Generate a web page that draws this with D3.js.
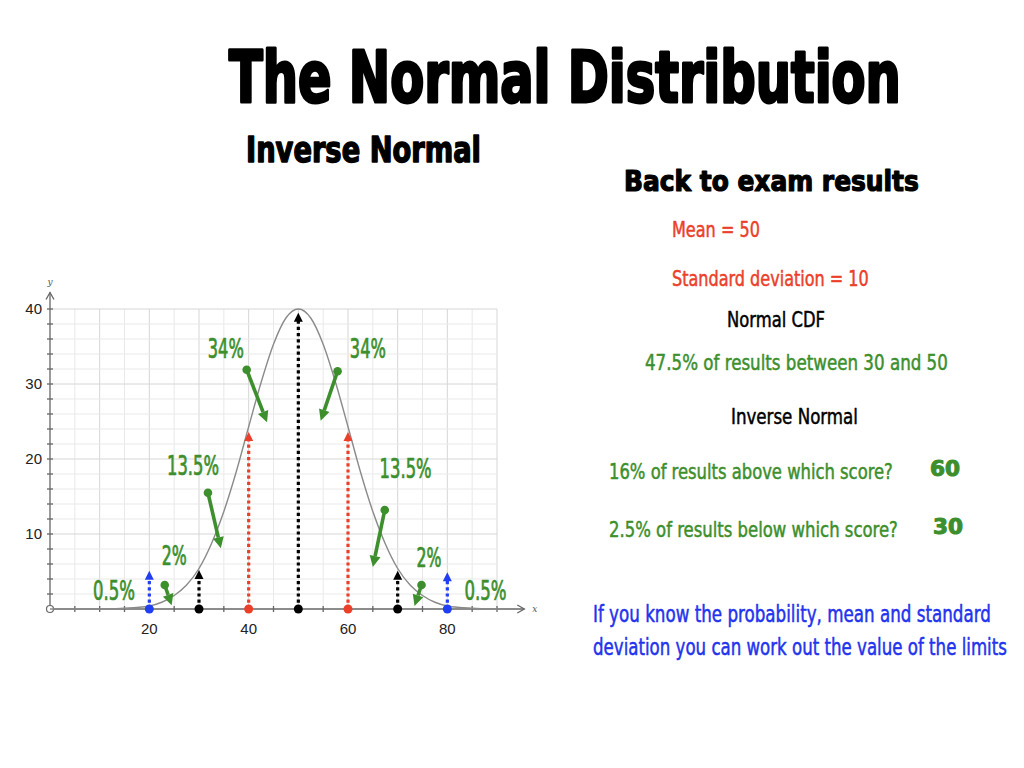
<!DOCTYPE html>
<html lang="en">
<head>
<meta charset="UTF-8">
<script src="https://d3js.org/d3.v7.min.js"></script>
<style>
  body { margin: 0; background: white; }
  .cond { font-family: "Liberation Sans Narrow", "DejaVu Sans Condensed", "Open Sans", sans-serif; }
  .heavy { font-family: "DejaVu Sans Condensed", "DejaVu Sans", sans-serif; font-weight: bold; }
  .tick-label { font-family: "Liberation Sans", Arial, sans-serif; font-size: 15px; fill: #222; }
</style>
</head>
<body>
<div id="chart"></div>
<script>
// curve (score, height)
const curveX = [0, 2.5, 5, 7.5, 10, 12.5, 15, 17.5, 20, 22.5, 25, 27.5, 30, 32.5, 35, 37.5, 40, 42.5, 45, 47.5,
                50, 52.5, 55, 57.5, 60, 62.5, 65, 67.5, 70, 72.5, 75, 77.5, 80, 82.5, 85, 87.5, 90, 92.5, 95];
const curveY = [0, 0, 0, 0, 0, 0, 0.1, 0.2, 0.4, 0.9, 1.8, 3.2, 5.4, 8.7, 13.0, 18.3, 24.3, 30.2, 35.3, 38.8,
                40, 38.8, 35.3, 30.2, 24.3, 18.3, 13.0, 8.7, 5.4, 3.2, 1.8, 0.9, 0.4, 0.2, 0.1, 0, 0, 0, 0];

// dotted limit markers
const markerX = [20, 30, 40, 50, 60, 70, 80];
const markerTop = [5.1, 5.2, 23.6, 39.5, 23.6, 5.1, 4.9];
const markerColor = ["#1f3ff0", "#000", "#ec3f2a", "#000", "#ec3f2a", "#000", "#1f3ff0"];

// percentage labels
const pctText = ["0.5%", "2%", "13.5%", "34%", "34%", "13.5%", "2%", "0.5%"];
const pctX = [12.9, 25.0, 28.8, 35.4, 64.0, 71.6, 76.3, 87.7];
const pctY = [1.2, 5.9, 17.9, 33.5, 33.5, 17.5, 5.6, 1.2];

// green pointers [x0, y0, x1, y1]
const pointers = [
  [23.1, 3.2, 24.5, 0.5],
  [31.8, 15.5, 34.4, 8.1],
  [39.6, 31.9, 43.7, 24.9],
  [57.9, 31.7, 54.5, 25.1],
  [67.4, 13.2, 65.0, 5.6],
  [74.8, 3.2, 73.4, 0.4]
];

const xTicks = [20, 40, 60, 80];
const yTicks = [10, 20, 30, 40];

const notes = [
  "Back to exam results", "Mean = 50", "Standard deviation = 10", "Normal CDF",
  "47.5% of results between 30 and 50", "Inverse Normal",
  "16% of results above which score?", "60",
  "2.5% of results below which score?", "30",
  "If you know the probability, mean and standard",
  "deviation you can work out the value of the limits"
];

const green = "#3c8f2c";
const width = 1024, height = 768;

const svg = d3.select("#chart").append("svg")
  .attr("width", width).attr("height", height)
  .style("background", "white");

const x = d3.scaleLinear().domain([0, 90]).range([50, 497]);
const y = d3.scaleLinear().domain([0, 40]).range([609, 309]);

// grid
const grid = svg.append("g");
grid.selectAll(".vg").data(d3.range(5, 91, 5)).enter().append("line")
  .attr("x1", d => x(d)).attr("x2", d => x(d))
  .attr("y1", y(0)).attr("y2", y(40))
  .attr("stroke", d => d % 10 === 0 ? "#d6d6d6" : "#e9e9e9").attr("stroke-width", 1);
grid.selectAll(".hg").data(d3.range(2, 41, 2)).enter().append("line")
  .attr("y1", d => y(d)).attr("y2", d => y(d))
  .attr("x1", x(0)).attr("x2", x(90))
  .attr("stroke", d => d % 10 === 0 ? "#d6d6d6" : "#e9e9e9").attr("stroke-width", 1);

// axes
const ax = svg.append("g").attr("stroke", "#666").attr("fill", "none").attr("stroke-width", 1.3);
ax.append("line").attr("x1", x(0)).attr("x2", x(95.5)).attr("y1", y(0)).attr("y2", y(0));
ax.append("line").attr("x1", x(0)).attr("x2", x(0)).attr("y1", y(0)).attr("y2", y(42.2));
ax.append("path").attr("d", `M${x(95.5) - 7},${y(0) - 4}L${x(95.5)},${y(0)}L${x(95.5) - 7},${y(0) + 4}`);
ax.append("path").attr("d", `M${x(0) - 4},${y(42.2) + 7}L${x(0)},${y(42.2)}L${x(0) + 4},${y(42.2) + 7}`);
ax.selectAll(".xt").data(d3.range(5, 91, 5)).enter().append("line")
  .attr("x1", d => x(d)).attr("x2", d => x(d)).attr("y1", y(0) - 3).attr("y2", y(0) + 3);
ax.selectAll(".yt").data(d3.range(2, 41, 2)).enter().append("line")
  .attr("y1", d => y(d)).attr("y2", d => y(d)).attr("x1", x(0) - 3).attr("x2", x(0) + 3);
svg.append("circle").attr("cx", x(0)).attr("cy", y(0)).attr("r", 3.5)
  .attr("fill", "white").attr("stroke", "#666").attr("stroke-width", 1.2);

svg.append("text").attr("x", x(0)).attr("y", y(42.2) - 8).attr("text-anchor", "middle")
  .style("font", "italic 9px 'DejaVu Serif', serif").attr("fill", "#555").text("y");
svg.append("text").attr("x", x(95.5) + 8).attr("y", y(0) + 3)
  .style("font", "italic 9px 'DejaVu Serif', serif").attr("fill", "#555").text("x");

svg.selectAll(".xl").data(xTicks).enter().append("text").attr("class", "tick-label")
  .attr("x", d => x(d)).attr("y", y(0) + 25).attr("text-anchor", "middle").text(d => d);
svg.selectAll(".yl").data(yTicks).enter().append("text").attr("class", "tick-label")
  .attr("x", x(0) - 8).attr("y", d => y(d)).attr("dy", "0.36em").attr("text-anchor", "end").text(d => d);

// curve
const line = d3.line().x(d => x(d[0])).y(d => y(d[1])).curve(d3.curveMonotoneX);
svg.append("path").datum(curveX.map((v, i) => [v, curveY[i]]))
  .attr("d", line).attr("fill", "none").attr("stroke", "#8a8a8a").attr("stroke-width", 1.4);

// dotted markers
const mk = svg.selectAll(".mk").data(markerX).enter().append("g");
mk.append("line")
  .attr("x1", d => x(d)).attr("x2", d => x(d))
  .attr("y1", y(0)).attr("y2", (d, i) => y(markerTop[i]) + 8)
  .attr("stroke", (d, i) => markerColor[i]).attr("stroke-width", 3.2)
  .attr("stroke-dasharray", "3.2,3");
mk.append("path")
  .attr("d", (d, i) => {
    const cx = x(d), ty = y(markerTop[i]);
    return `M${cx},${ty}L${cx - 4.5},${ty + 9}L${cx + 4.5},${ty + 9}Z`;
  })
  .attr("fill", (d, i) => markerColor[i]);
mk.append("circle").attr("cx", d => x(d)).attr("cy", y(0)).attr("r", 4.5)
  .attr("fill", (d, i) => markerColor[i]);

// green pointers
const pt = svg.selectAll(".pt").data(pointers).enter().append("g");
pt.each(function (d) {
  const g = d3.select(this);
  const x0 = x(d[0]), y0 = y(d[1]), x1 = x(d[2]), y1 = y(d[3]);
  const a = Math.atan2(y1 - y0, x1 - x0);
  const L = 11, W = 5.5;
  const bx = x1 - L * Math.cos(a), by = y1 - L * Math.sin(a);
  g.append("line").attr("x1", x0).attr("y1", y0).attr("x2", bx).attr("y2", by)
    .attr("stroke", green).attr("stroke-width", 3.6);
  g.append("circle").attr("cx", x0).attr("cy", y0).attr("r", 4.3).attr("fill", green);
  g.append("path")
    .attr("d", `M${x1},${y1}L${bx + W * Math.sin(a)},${by - W * Math.cos(a)}L${bx - W * Math.sin(a)},${by + W * Math.cos(a)}Z`)
    .attr("fill", green);
});

// text squeezed horizontally to the width it has in the picture
function txt(s, px, py, w, size, color, cls, weight) {
  const t = svg.append("text").attr("class", cls)
    .style("font-size", size + "px").attr("fill", color).text(s);
  if (weight) t.attr("stroke", color).attr("stroke-width", weight).attr("stroke-linejoin", "round");
  const nat = t.node().getComputedTextLength();
  t.attr("transform", `translate(${px},${py}) scale(${w / nat},1)`);
  return t;
}

// percentage labels
const pctWidth = { "0.5%": 42, "2%": 25, "13.5%": 52, "34%": 36 };
pctText.forEach((s, i) => {
  txt(s, x(pctX[i]) - pctWidth[s] / 2, y(pctY[i]), pctWidth[s], 26, green, "cond", 0.7);
});

// headings
txt("The Normal Distribution", 229, 102, 672, 72, "#000", "heavy", 3);
txt("Inverse Normal", 246, 162, 235, 35, "#000", "heavy", 1.4);

// right-hand notes
const noteLayout = [
  [624, 191, 295, 29, "#000", "heavy", 1.2],
  [672, 237, 88, 22, "#ec3f2a", "cond", 0.5],
  [672, 286, 197, 22, "#ec3f2a", "cond", 0.5],
  [727, 327, 98, 22, "#000", "cond", 0.5],
  [645, 370, 303, 22, green, "cond", 0.5],
  [731, 424, 127, 22, "#000", "cond", 0.5],
  [609, 479, 284, 22, green, "cond", 0.5],
  [930, 476, 30, 22, green, "heavy", 1],
  [609, 537, 289, 22, green, "cond", 0.5],
  [933, 534, 30, 22, green, "heavy", 1],
  [593, 622, 398, 23, "#2233ee", "cond", 0.5],
  [593, 655, 414, 23, "#2233ee", "cond", 0.5]
];
notes.forEach((s, i) => {
  const l = noteLayout[i];
  txt(s, l[0], l[1], l[2], l[3], l[4], l[5], l[6]);
});
</script>
</body>
</html>
